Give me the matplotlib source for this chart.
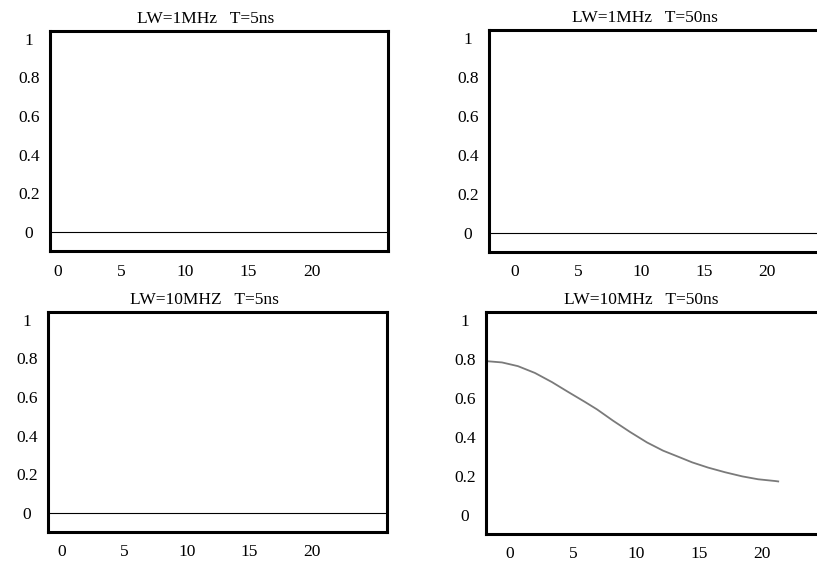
import matplotlib.pyplot as plt

plt.rcParams['font.family'] = ['Liberation Serif', 'DejaVu Serif']

# panel titles, row by row
titles = ["LW=1MHz   T=5ns", "LW=1MHz   T=50ns",
          "LW=10MHZ   T=5ns", "LW=10MHz   T=50ns"]

x_ticks = [0, 5, 10, 15, 20]
y_ticks = [0, 0.2, 0.4, 0.6, 0.8, 1]
y_tick_labels = ["0", "0.2", "0.4", "0.6", "0.8", "1"]

# flat traces (value 0) in the three empty panels
flat_x = [-3, 30]
flat_y = [0, 0]

# decaying trace, LW=10MHz T=50ns
curve_x = [-1.75, -0.63, 0.63, 1.98, 3.33, 4.60, 5.95, 6.90, 8.17, 9.52,
           10.87, 12.14, 13.49, 14.44, 15.71, 17.06, 18.41, 19.68, 21.03, 21.27]
curve_y = [0.787, 0.781, 0.762, 0.727, 0.680, 0.630, 0.578, 0.540, 0.482, 0.424,
           0.370, 0.328, 0.293, 0.268, 0.241, 0.217, 0.196, 0.181, 0.172, 0.170]

W, H = 817, 565

# axes boxes in pixels: left, top, width, height
boxes = [
    (50, 31, 338, 220),
    (489, 30, 338, 222),
    (48, 312, 339, 220),
    (486, 312, 338, 222),
]
x_limits = [(-0.63, 26.0), (-2.06, 24.8), (-1.12, 26.0), (-1.9, 24.9)]

fig = plt.figure(figsize=(W / 100, H / 100), dpi=100)

for i, (left, top, w, h) in enumerate(boxes):
    ax = fig.add_axes([left / W, 1 - (top + h) / H, w / W, h / H])

    if i == 3:
        ax.plot(curve_x, curve_y, color="#7a7a7a", linewidth=1.3)
    else:
        ax.plot(flat_x, flat_y, color="black", linewidth=0.8)

    ax.set_xlim(*x_limits[i])
    ax.set_ylim(-0.1, 1.04)
    ax.set_xticks(x_ticks)
    ax.set_yticks(y_ticks)
    ax.set_yticklabels(y_tick_labels)
    ax.tick_params(length=0, labelsize=12.5)
    ax.tick_params(axis="y", pad=15)
    ax.tick_params(axis="x", pad=9)
    for lab in ax.get_yticklabels():
        lab.set_horizontalalignment("center")

    for side in ax.spines.values():
        side.set_linewidth(2.2)

    ax.set_title(titles[i], fontsize=12.5, x=0.46, pad=6)

fig.savefig("out.png", dpi=100)
